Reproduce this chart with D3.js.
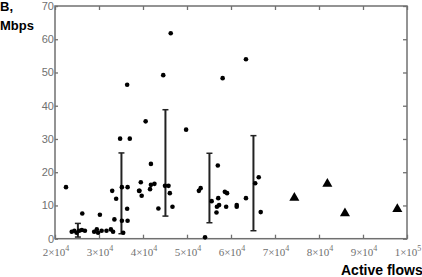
<!DOCTYPE html>
<html>
<head>
<meta charset="utf-8">
<script src="https://cdn.jsdelivr.net/npm/d3@7"></script>
<style>
body { margin: 0; background: #fff; }
svg { display: block; }
</style>
</head>
<body>
<script>
var width = 422;
var height = 277;

// measured points (active flows, Mbps)
var flows = [46300, 63400, 44600, 58100, 36400, 40600, 34800, 37000, 49800,
    22500, 26200, 30200, 33000, 33900, 33500, 35200, 36500, 36400, 35200, 36500, 35500,
    23800, 24400, 24900, 25500, 26100, 26800,
    28900, 29500, 29800, 30600, 31700, 32700, 33200, 39200,
    41800, 39500, 39100, 39700, 41600, 41800, 42600, 45000, 45800, 46100, 43500, 46700, 52700,
    53100, 57000, 55600, 57100, 57300, 56800, 56700, 58600, 59100, 58900, 61300, 61300, 63400,
    65500, 66300, 66750, 54100];
var bandwidth = [61.8, 54.0, 49.2, 48.3, 46.3, 35.3, 30.1, 30.1, 32.8,
    15.5, 7.6, 7.2, 14.4, 12.0, 5.8, 15.5, 15.5, 9.0, 5.4, 5.4, 1.8,
    2.1, 2.4, 1.8, 2.4, 2.6, 2.4,
    2.1, 2.8, 1.8, 2.4, 2.4, 2.8, 2.1, 14.4,
    22.5, 17.0, 14.4, 12.9, 14.9, 16.2, 16.5, 15.9, 15.9, 13.7, 9.1, 9.6, 14.4,
    15.2, 22.0, 11.3, 12.2, 10.1, 9.6, 7.9, 14.1, 13.7, 9.6, 10.1, 9.6, 12.2,
    16.7, 18.5, 8.0, 0.4];

var triFlows = [74400, 81900, 85900, 97800];
var triBandwidth = [12.3, 16.5, 7.6, 8.9];

var barFlows = [25200, 35100, 45100, 55100, 65100];
var barLow = [0.5, 1.5, 6.8, 4.8, 2.4];
var barHigh = [4.6, 25.8, 38.8, 25.7, 31.0];

var xTicks = [2e4, 3e4, 4e4, 5e4, 6e4, 7e4, 8e4, 9e4, 1e5];
var yTicks = [0, 10, 20, 30, 40, 50, 60, 70];

var svg = d3.select("body").append("svg")
    .attr("width", width)
    .attr("height", height);

var x = d3.scaleLinear().domain([2e4, 1e5]).range([55, 407]);
var y = d3.scaleLinear().domain([0, 70]).range([238.7, 6]);

var axisColor = "#707070";

// ticks on all four sides, pointing inward
svg.append("g").attr("transform", "translate(0,238.7)")
    .call(d3.axisBottom(x).tickValues(xTicks).tickSize(-4).tickFormat(""));
svg.append("g").attr("transform", "translate(0,6)")
    .call(d3.axisTop(x).tickValues(xTicks).tickSize(-4).tickFormat(""));
svg.append("g").attr("transform", "translate(55,0)")
    .call(d3.axisLeft(y).tickValues(yTicks).tickSize(-3).tickFormat(""));
svg.append("g").attr("transform", "translate(407,0)")
    .call(d3.axisRight(y).tickValues(yTicks).tickSize(-4).tickFormat(""));
svg.selectAll(".domain").remove();
svg.selectAll(".tick line").attr("stroke", axisColor).attr("stroke-width", 1.3);

// frame
svg.append("rect")
    .attr("x", 55).attr("y", 6)
    .attr("width", 352).attr("height", 232.7)
    .attr("fill", "none")
    .attr("stroke", axisColor)
    .attr("stroke-width", 1.5);

// y tick labels
svg.selectAll(".ylab")
    .data(yTicks)
    .enter()
    .append("text")
    .attr("x", 54)
    .attr("y", function (d) { return y(d) + 4; })
    .attr("text-anchor", "end")
    .attr("font-family", "Liberation Sans Narrow, Liberation Sans, sans-serif")
    .attr("font-size", 11)
    .attr("fill", "#707070")
    .text(function (d) { return d; });

// x tick labels like 2x10^4
var xl = svg.selectAll(".xlab")
    .data(xTicks)
    .enter()
    .append("text")
    .attr("x", function (d) { return x(d) + 1; })
    .attr("y", 256)
    .attr("text-anchor", "middle")
    .attr("font-family", "Liberation Serif, serif")
    .attr("font-size", 11)
    .attr("fill", "#707070");
xl.append("tspan").text(function (d) {
    var e = Math.floor(Math.log10(d));
    return Math.round(d / Math.pow(10, e)) + "\u00d710";
});
xl.append("tspan")
    .attr("dy", -5)
    .attr("font-size", 8)
    .text(function (d) { return Math.floor(Math.log10(d)); });

// error bars
var bars = svg.selectAll(".err")
    .data(barFlows)
    .enter()
    .append("g")
    .attr("stroke", "#222")
    .attr("stroke-width", 2);
bars.append("line")
    .attr("x1", function (d) { return x(d); })
    .attr("x2", function (d) { return x(d); })
    .attr("y1", function (d, i) { return y(barLow[i]); })
    .attr("y2", function (d, i) { return y(barHigh[i]); });
bars.append("line")
    .attr("x1", function (d) { return x(d) - 3; })
    .attr("x2", function (d) { return x(d) + 3; })
    .attr("y1", function (d, i) { return y(barHigh[i]); })
    .attr("y2", function (d, i) { return y(barHigh[i]); })
    .attr("stroke-width", 1.5);
bars.append("line")
    .attr("x1", function (d) { return x(d) - 3; })
    .attr("x2", function (d) { return x(d) + 3; })
    .attr("y1", function (d, i) { return y(barLow[i]); })
    .attr("y2", function (d, i) { return y(barLow[i]); })
    .attr("stroke-width", 1.5);

// dots
svg.selectAll(".dot")
    .data(flows)
    .enter()
    .append("circle")
    .attr("cx", function (d) { return x(d); })
    .attr("cy", function (d, i) { return y(bandwidth[i]); })
    .attr("r", 2.3)
    .attr("fill", "#000");

// triangles
svg.selectAll(".tri")
    .data(triFlows)
    .enter()
    .append("path")
    .attr("d", d3.symbol().type(d3.symbolTriangle).size(44))
    .attr("transform", function (d, i) {
        return "translate(" + x(d) + "," + y(triBandwidth[i]) + ")";
    })
    .attr("fill", "#000");

// axis titles
svg.append("text")
    .attr("x", 0).attr("y", 11)
    .attr("font-family", "Liberation Sans, Arial, sans-serif")
    .attr("font-weight", "bold")
    .attr("font-size", 13)
    .text("B,");
svg.append("text")
    .attr("x", 0).attr("y", 30)
    .attr("font-family", "Liberation Sans, Arial, sans-serif")
    .attr("font-weight", "bold")
    .attr("font-size", 13)
    .text("Mbps");
svg.append("text")
    .attr("x", 341).attr("y", 275)
    .attr("font-family", "Liberation Sans, Arial, sans-serif")
    .attr("font-weight", "bold")
    .attr("font-size", 14)
    .text("Active flows");
</script>
</body>
</html>
